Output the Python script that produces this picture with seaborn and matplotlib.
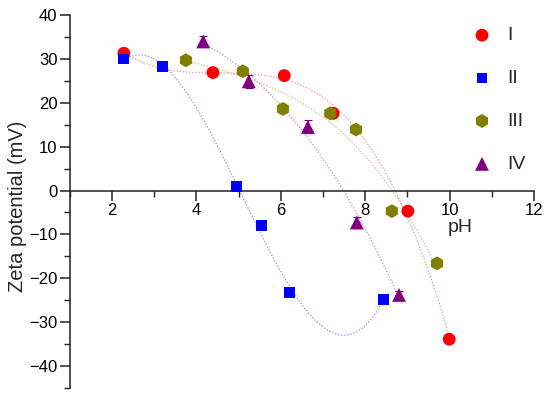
import numpy as np
import pandas as pd
import matplotlib
matplotlib.use("Agg")
import matplotlib.pyplot as plt
from matplotlib.ticker import MultipleLocator
import seaborn as sns

# ---- data ----
series_names = ["I", "II", "III", "IV"]
ph_I = [2.28, 4.39, 6.08, 7.24, 9.01, 9.99]
zeta_I = [31.3, 26.9, 26.2, 17.6, -4.7, -33.9]
ph_II = [2.28, 3.19, 4.95, 5.54, 6.20, 8.43]
zeta_II = [30.0, 28.2, 0.9, -7.9, -23.3, -24.8]
ph_III = [3.75, 5.10, 6.05, 7.17, 7.78, 8.63, 9.70]
zeta_III = [29.7, 27.2, 18.6, 17.6, 13.9, -4.7, -16.6]
ph_IV = [4.16, 5.24, 6.64, 7.80, 8.80]
zeta_IV = [34.0, 24.9, 14.5, -7.3, -23.8]
err_IV = [1.3, 1.5, 1.5, 1.2, 1.0]

x_ticks = [2, 4, 6, 8, 10, 12]
y_ticks = [-40, -30, -20, -10, 0, 10, 20, 30, 40]

colors = {"I": "#FF0000", "II": "#0000FF", "III": "#808000", "IV": "#800080"}
markers = {"I": "o", "II": "s", "III": "h", "IV": "^"}
sizes = {"I": 85, "II": 60, "III": 100, "IV": 100}

xs = {"I": ph_I, "II": ph_II, "III": ph_III, "IV": ph_IV}
ys = {"I": zeta_I, "II": zeta_II, "III": zeta_III, "IV": zeta_IV}

df = pd.concat([
    pd.DataFrame({"pH": xs[n], "zeta": ys[n], "sample": n}) for n in series_names
], ignore_index=True)

sns.set_style("ticks")
plt.rcParams["font.family"] = ["Liberation Sans", "DejaVu Sans"]

fig = plt.figure(figsize=(5.5, 3.97), dpi=100)
ax = fig.add_axes([0.127, 0.023, 0.844, 0.939])

# fitted dotted trend curves
for n in series_names:
    sub = df[df["sample"] == n]
    sns.regplot(data=sub, x="pH", y="zeta", order=3, ci=None, scatter=False,
                truncate=True, ax=ax,
                line_kws=dict(color=colors[n], lw=0.9, ls=(0, (1, 1.5)), alpha=0.45))

# error bars for IV
ax.errorbar(ph_IV, zeta_IV, yerr=err_IV, fmt="none", ecolor=colors["IV"],
            elinewidth=0.8, capsize=3, capthick=0.8, zorder=2)

for n in series_names:
    sub = df[df["sample"] == n]
    sns.scatterplot(data=sub, x="pH", y="zeta", ax=ax, color=colors[n],
                    marker=markers[n], s=sizes[n], edgecolor="none",
                    label=n, zorder=3)

ax.set_xlim(1, 12)
ax.set_ylim(-45, 40)
ax.set_xticks(x_ticks)
ax.set_yticks(y_ticks)
ax.xaxis.set_minor_locator(MultipleLocator(1))
ax.yaxis.set_minor_locator(MultipleLocator(5))

ax.spines["top"].set_visible(False)
ax.spines["right"].set_visible(False)
ax.spines["bottom"].set_position(("data", 0))
for s in ["left", "bottom"]:
    ax.spines[s].set_color("#222222")
    ax.spines[s].set_linewidth(1.1)

ax.tick_params(axis="both", which="major", direction="out", length=7, width=1.1,
               labelsize=12, colors="#222222", labelcolor="black")
ax.tick_params(axis="both", which="minor", direction="out", length=4, width=1.0,
               colors="#222222")
ax.tick_params(axis="x", pad=2)
ax.tick_params(axis="y", pad=2)

ax.set_xlabel("pH", fontsize=14)
ax.xaxis.set_label_coords(0.841, 0.452)
ax.set_ylabel("Zeta potential (mV)", fontsize=14.5)
ax.yaxis.set_label_coords(-0.092, 0.488)

leg = ax.legend(loc="upper left", bbox_to_anchor=(0.846, 0.995), frameon=False,
                fontsize=14, labelspacing=1.3, handletextpad=0.8,
                handlelength=1.0, borderpad=0)

fig.savefig("out.png", dpi=100)
